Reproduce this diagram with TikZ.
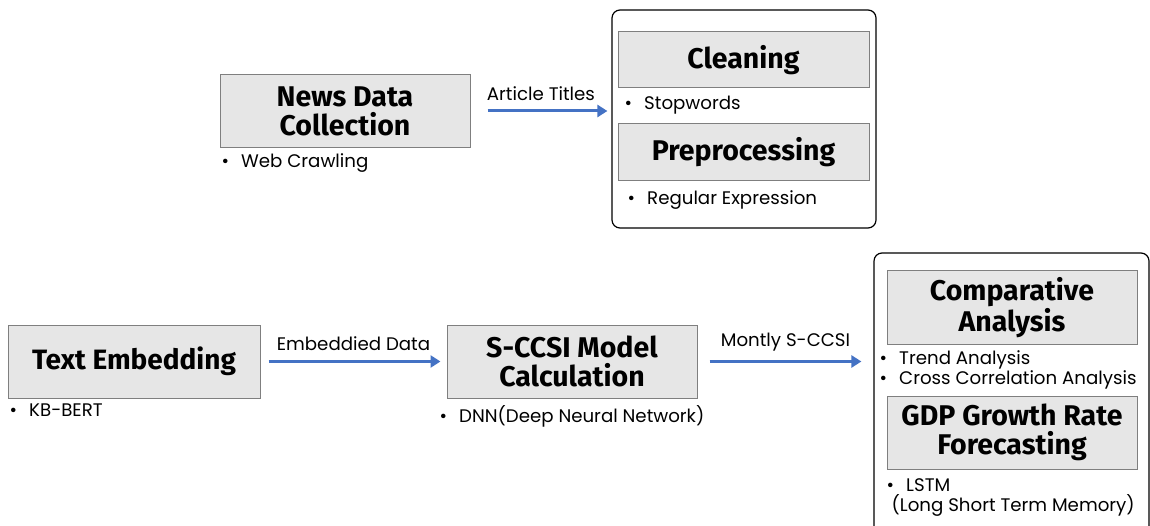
\documentclass[tikz,border=0pt]{standalone}
\usepackage{fontspec}
\setmainfont{Fira Sans}
\newfontfamily\notefont{Poppins}
\usetikzlibrary{positioning, arrows.meta}
\definecolor{boxgray}{HTML}{E6E6E6}
\definecolor{edgegray}{HTML}{7F7F7F}
\definecolor{flowblue}{HTML}{4472C4}
\newcommand{\itm}{\textbullet\hspace{12pt}}

\begin{document}
\begin{tikzpicture}[x=1pt, y=-1pt,
        stage/.style={draw=edgegray, fill=boxgray, line width=1pt,
          align=center, inner sep=0pt, minimum width=250pt, minimum height=73pt,
          font=\bfseries\fontsize{28.5}{29}\selectfont},
        note/.style={inner sep=0pt, align=left,
          font=\notefont\fontsize{18.2}{20}\selectfont},
        group/.style={draw=black, line width=1.2pt, rounded corners=8pt},
        flow/.style={flowblue, line width=3pt,
          -{Triangle[length=10pt, width=12pt]}},
        flowlabel/.style={above=9pt, inner sep=0pt, text=black,
          font=\notefont\fontsize{18.2}{20}\selectfont},
      ]
      \useasboundingbox (0,0) rectangle (1150,526);

      % first row
      \node[stage] (news) at (345,111) {News Data\\Collection};
      \node[note, below right=5pt and 2pt of news.south west] (newsnote) {\itm Web Crawling};

      \node[group, minimum width=264pt, minimum height=218pt] (prepgroup) at (744,119) {};
      \node[stage, minimum width=251pt, minimum height=56pt] (clean) at (743.5,60) {Cleaning};
      \node[note, below right=7pt and 7pt of clean.south west] (cleannote) {\itm Stopwords};
      \node[stage, minimum width=251pt, minimum height=57pt] (prep) at (743.5,152.5) {Preprocessing};
      \node[note, below right=9pt and 10pt of prep.south west] (prepnote) {\itm Regular Expression};

      \draw[flow, shorten <=17pt, shorten >=4pt] (news.east) --
        node[flowlabel] {Article Titles} (news.east -| prepgroup.west);

      % second row
      \node[stage, minimum width=252pt, font=\bfseries\fontsize{28}{32}\selectfont] (embed) at (134,361.5) {Text Embedding};
      \node[note, below right=5pt and 2pt of embed.south west] (embednote) {\itm KB-BERT};

      \node[stage] (calc) at (572,361.5) {S-CCSI Model\\Calculation};
      \node[note, below right=7pt and -7pt of calc.south west] (calcnote) {\itm DNN(Deep Neural Network)};

      \node[group, minimum width=275pt, minimum height=300pt] (evalgroup) at (1011.5,403) {};
      \node[stage] (comp) at (1012,307.5) {Comparative\\Analysis};
      \node[note, below right=6pt and -7pt of comp.south west] (compnote) {\itm Trend Analysis\\\itm Cross Correlation Analysis};
      \node[stage] (gdp) at (1012,432.5) {GDP Growth Rate\\Forecasting};
      \node[note, below right=9pt and 0pt of gdp.south west] (gdpnote) {\itm LSTM\\\hspace{5pt}(Long Short Term Memory)};

      \draw[flow, shorten <=8pt, shorten >=6pt] (embed) --
        node[flowlabel] {Embeddied Data} (calc);
      \draw[flow, shorten <=12pt, shorten >=12pt] (calc.east) --
        node[flowlabel] {Montly S-CCSI} (calc.east -| evalgroup.west);
    \end{tikzpicture}
\end{document}
